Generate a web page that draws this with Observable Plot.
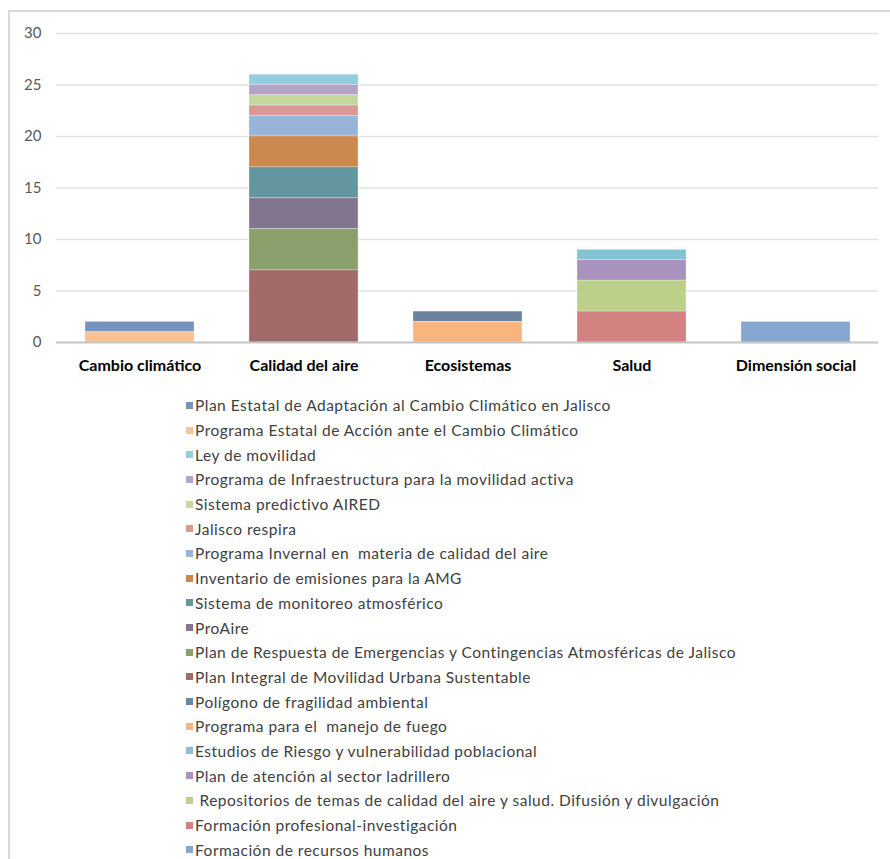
<!DOCTYPE html>
<html><head><meta charset="utf-8">
<script src="https://cdn.jsdelivr.net/npm/d3@7"></script>
<script src="https://cdn.jsdelivr.net/npm/@observablehq/plot@0.6"></script>
<style>
body{margin:0;background:#fff;width:890px;height:859px;overflow:hidden;position:relative;font-family:Lato,"Open Sans",sans-serif;}
#frameTop{position:absolute;left:8px;top:10px;width:882px;height:2px;background:#d9d9d9}
#frameLeft{position:absolute;left:8px;top:10px;width:2px;height:849px;background:#d9d9d9}
#chart{position:absolute;left:0;top:0}
#legend{position:absolute;left:186px;top:393px}
.item{height:24.7px;display:flex;align-items:center;font-size:15.5px;letter-spacing:0.5px;color:#404040;white-space:pre}
.sw{width:7px;height:7px;margin-right:2px;flex:none}
</style></head>
<body>
<div id="frameTop"></div><div id="frameLeft"></div>
<div id="chart"></div>
<div id="legend"></div>
<script>
const categories = ["Cambio climático","Calidad del aire","Ecosistemas","Salud","Dimensión social"];
const yTicks = [0,5,10,15,20,25,30];
const programs = [
 "Plan Estatal de Adaptación al Cambio Climático en Jalisco",
 "Programa Estatal de Acción ante el Cambio Climático",
 "Ley de movilidad",
 "Programa de Infraestructura para la movilidad activa",
 "Sistema predictivo AIRED",
 "Jalisco respira",
 "Programa Invernal en  materia de calidad del aire",
 "Inventario de emisiones para la AMG",
 "Sistema de monitoreo atmosférico",
 "ProAire",
 "Plan de Respuesta de Emergencias y Contingencias Atmosféricas de Jalisco",
 "Plan Integral de Movilidad Urbana Sustentable",
 "Polígono de fragilidad ambiental",
 "Programa para el  manejo de fuego",
 "Estudios de Riesgo y vulnerabilidad poblacional",
 "Plan de atención al sector ladrillero",
 " Repositorios de temas de calidad del aire y salud. Difusión y divulgación",
 "Formación profesional-investigación",
 "Formación de recursos humanos"
];
const programCategory = [
 "Cambio climático","Cambio climático",
 "Calidad del aire","Calidad del aire","Calidad del aire","Calidad del aire","Calidad del aire",
 "Calidad del aire","Calidad del aire","Calidad del aire","Calidad del aire","Calidad del aire",
 "Ecosistemas","Ecosistemas",
 "Salud","Salud","Salud","Salud",
 "Dimensión social"
];
const programValue = [1,1, 1,1,1,1,2,3,3,3,4,7, 1,2, 1,2,3,3, 2];
const colors = [
 "#7594BD","#FAC191","#93CEDD","#B4A3C8","#C4D79D","#DA9896","#98B4D8","#CB8950","#63969E",
 "#83758F","#8B9F6C","#A06B69","#6C829F","#F9B57E","#82C4D4","#A793BE","#BCD08C","#D48181","#84A6CF"
];

const data = programs.map((p,i)=>({program:p, category:programCategory[i], value:programValue[i]}));

const plot = Plot.plot({
  width:890, height:380,
  marginLeft:56, marginRight:12, marginTop:33, marginBottom:38,
  style:{fontFamily:"Lato, sans-serif", background:"transparent", overflow:"visible"},
  x:{domain:categories, paddingInner:0.337, paddingOuter:0.1685, label:null, axis:null},
  y:{domain:[0,30], label:null, axis:null},
  color:{domain:programs, range:colors},
  marks:[
    Plot.gridY(yTicks.filter(d=>d>0), {stroke:"#e3e3e3", strokeOpacity:1, strokeWidth:1.5}),
    Plot.barY(data, {x:"category", y:"value", fill:"program", order:programs.slice().reverse(), stroke:"#ffffff", strokeOpacity:0.35, strokeWidth:0.8}),
    Plot.ruleY([0], {stroke:"#c4c4c4", strokeWidth:2}),
    Plot.axisY({ticks:yTicks, tickSize:0, tickPadding:15, fontSize:15, fill:"#595959", label:null}),
    Plot.axisX({tickSize:0, tickPadding:17, fontSize:16, fontWeight:"bold", fill:"#000000", label:null, style:"letter-spacing:0.25px"})
  ]
});
document.getElementById("chart").appendChild(plot);

const legend = document.getElementById("legend");
programs.forEach((p,i)=>{
  const row = document.createElement("div");
  row.className = "item";
  const sw = document.createElement("span");
  sw.className = "sw";
  sw.style.background = colors[i];
  const t = document.createElement("span");
  t.textContent = p;
  row.appendChild(sw); row.appendChild(t);
  legend.appendChild(row);
});
</script>
</body></html>
